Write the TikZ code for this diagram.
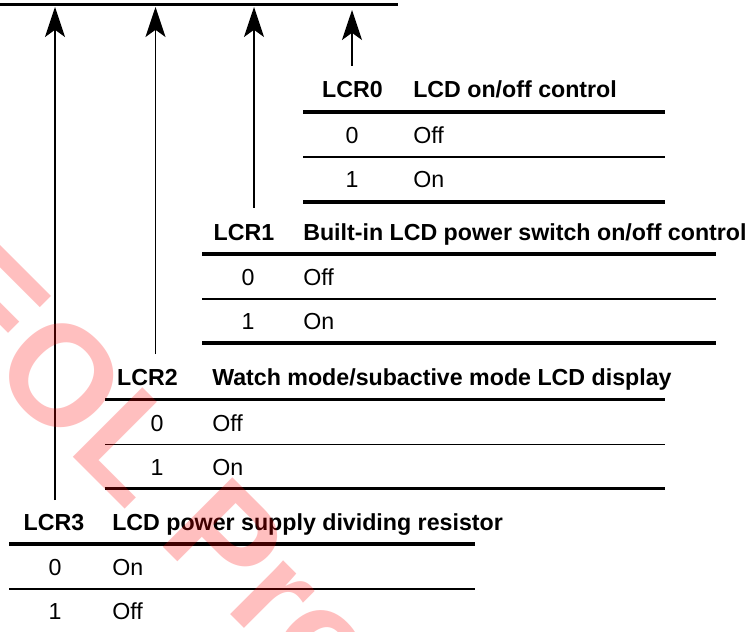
\documentclass[tikz,border=0pt]{standalone}
\usepackage{fontspec}
\setmainfont{Liberation Sans}
\usetikzlibrary{arrows.meta}
\newcommand\tabfont{\fontsize{16.5}{20}\selectfont}

\begin{document}
\begin{tikzpicture}[x=.25cm,y=-.25cm,line join=round,font=\tabfont,
		>={Stealth[length=.75cm,width=.5cm,inset=.18cm]},
		every node/.style={inner sep=0pt},
		thickrule/.style={line width=.08cm},
		thinrule/.style={line width=.035cm},
		hd/.style={anchor=base,font=\tabfont\bfseries},
		hdtext/.style={anchor=base west,font=\tabfont\bfseries},
		val/.style={anchor=base},
		valtext/.style={anchor=base west}]
	\useasboundingbox (0,0) rectangle (75.1,63.2);
	\clip (0,0) rectangle (75.1,63.2);
	
	% Thanh ghi phía trên
	\draw[line width=.075cm] (0,.5) -- (39.8,.5);
	
	% Các mũi tên lên thanh ghi
	\foreach \n/\x/\y/\t in {0/35.2/6.6/1.0,1/25.4/20.8/.7,2/15.55/35.4/.7,3/5.5/50/.7}{
		\coordinate (b\n) at (\x,\y);
		\coordinate (t\n) at (\x,\t);
		\draw[->,line width=.035cm] (b\n) -- (t\n);
	}
	
	% Bảng LCR0
	\node[hd] (lcr0) at (35.25,9.75) {LCR0};
	\node[hdtext] (lcr0t) at (41.3,9.75) {LCD on/off control};
	\draw[thickrule] (30.3,11.2) -- (66.5,11.2);
	\node[val] (lcr0a) at (35.2,14.35) {0};
	\node[valtext] (lcr0at) at (41.3,14.35) {Off};
	\draw[thinrule] (30.3,15.7) -- (66.5,15.7);
	\node[val] (lcr0b) at (35.2,18.75) {1};
	\node[valtext] (lcr0bt) at (41.3,18.75) {On};
	\draw[thickrule] (30.3,20.2) -- (66.5,20.2);
	
	% Bảng LCR1
	\node[hd] (lcr1) at (24.4,24.0) {LCR1};
	\node[hdtext] (lcr1t) at (30.3,24.0) {Built-in LCD power switch on/off control};
	\draw[thickrule] (20.2,25.4) -- (71.6,25.4);
	\node[val] (lcr1a) at (24.8,28.55) {0};
	\node[valtext] (lcr1at) at (30.3,28.55) {Off};
	\draw[thinrule] (20.2,29.9) -- (71.6,29.9);
	\node[val] (lcr1b) at (24.8,32.95) {1};
	\node[valtext] (lcr1bt) at (30.3,32.95) {On};
	\draw[thickrule] (20.2,34.3) -- (71.6,34.3);
	
	% Bảng LCR2
	\node[hd] (lcr2) at (14.75,38.55) {LCR2};
	\node[hdtext] (lcr2t) at (21.2,38.55) {Watch mode/subactive mode LCD display};
	\draw[thickrule] (10.5,39.95) -- (66.5,39.95);
	\node[val] (lcr2a) at (15.7,43.1) {0};
	\node[valtext] (lcr2at) at (21.2,43.1) {Off};
	\draw[thinrule] (10.5,44.45) -- (66.5,44.45);
	\node[val] (lcr2b) at (15.7,47.5) {1};
	\node[valtext] (lcr2bt) at (21.2,47.5) {On};
	\draw[thickrule] (10.5,48.85) -- (66.5,48.85);
	
	% Bảng LCR3
	\node[hd] (lcr3) at (5.4,53.0) {LCR3};
	\node[hdtext] (lcr3t) at (11.2,53.0) {LCD power supply dividing resistor};
	\draw[thickrule] (.9,54.4) -- (47.5,54.4);
	\node[val] (lcr3a) at (5.5,57.55) {0};
	\node[valtext] (lcr3at) at (11.2,57.55) {On};
	\draw[thinrule] (.9,58.9) -- (47.5,58.9);
	\node[val] (lcr3b) at (5.5,61.95) {1};
	\node[valtext] (lcr3bt) at (11.2,61.95) {Off};
	
	% Dấu chìm
	\node[anchor=base west,rotate=-45,text=red,text opacity=.25,
		font=\fontsize{101.7}{110}\selectfont\bfseries] (wm) at (-8.0,30.4) {EOL Pro};
\end{tikzpicture}
\end{document}
